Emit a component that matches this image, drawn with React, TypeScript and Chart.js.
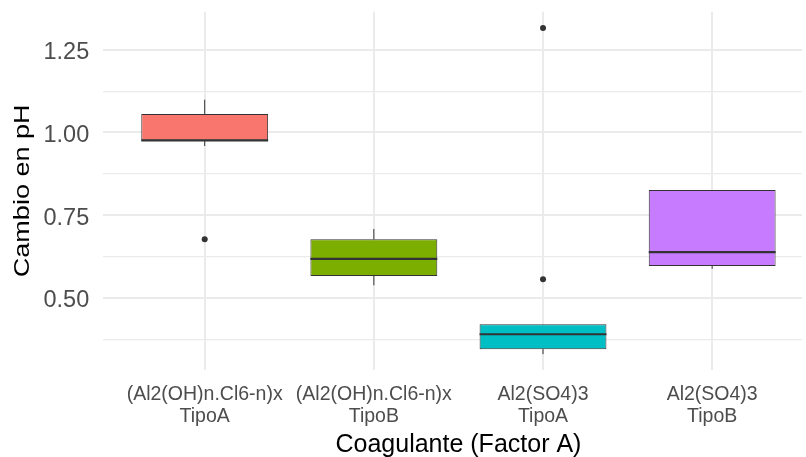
import { useEffect, useRef } from "react";
import { Chart, registerables } from "chart.js";

Chart.register(...registerables);

// Groups on the x axis (two-line labels)
const categories: string[][] = [
  ["(Al2(OH)n.Cl6-n)x", "TipoA"],
  ["(Al2(OH)n.Cl6-n)x", "TipoB"],
  ["Al2(SO4)3", "TipoA"],
  ["Al2(SO4)3", "TipoB"],
];

// Five-number summaries per group
const whiskerLow = [0.959, 0.538, 0.33, 0.588];
const q1 = [0.976, 0.566, 0.345, 0.596];
const medians = [0.976, 0.618, 0.39, 0.638];
const q3 = [1.056, 0.677, 0.42, 0.826];
const whiskerHigh = [1.099, 0.708, 0.42, 0.826];
const outliers: number[][] = [[0.677], [], [0.556, 1.316], []];

const fills = ["#F8766D", "#7CAE00", "#00BFC4", "#C77CFF"];

const yTicks = [0.375, 0.5, 0.625, 0.75, 0.875, 1.0, 1.125, 1.25];
const yLabelled = [0.5, 0.75, 1.0, 1.25];

const xTitle = "Coagulante (Factor A)";
const yTitle = "Cambio en pH";

const W = 806;
const H = 457;
const FONT = "'Liberation Sans', Arial, sans-serif";
const INK = "#333333";
const GRID = "#ebebeb";
const TICK_INK = "#4d4d4d";
// The rotated y title is set slightly condensed
const Y_TITLE_SQUEEZE = 0.84;

// Whiskers and median bars on top of the floating-bar boxes
const boxWhiskers = {
  id: "boxWhiskers",
  afterDatasetsDraw(chart: any) {
    const { ctx, scales } = chart;
    const x = scales.x;
    const y = scales.y;
    const bars = chart.getDatasetMeta(0).data;
    ctx.save();
    ctx.strokeStyle = INK;
    categories.forEach((_, i) => {
      const cx = x.getPixelForValue(i + 1);
      ctx.lineWidth = 1;
      ctx.beginPath();
      ctx.moveTo(cx, y.getPixelForValue(q3[i]));
      ctx.lineTo(cx, y.getPixelForValue(whiskerHigh[i]));
      ctx.moveTo(cx, y.getPixelForValue(q1[i]));
      ctx.lineTo(cx, y.getPixelForValue(whiskerLow[i]));
      ctx.stroke();
      const half = bars[i].width / 2;
      const my = y.getPixelForValue(medians[i]);
      ctx.lineWidth = 2.2;
      ctx.beginPath();
      ctx.moveTo(cx - half, my);
      ctx.lineTo(cx + half, my);
      ctx.stroke();
    });
    ctx.restore();
  },
};

// Axis titles: x title centred on the full panel (which runs past the
// right edge of the canvas), y title rotated
const axisTitles = {
  id: "axisTitles",
  afterDraw(chart: any) {
    const { ctx, chartArea, scales } = chart;
    const x = scales.x;
    ctx.save();
    ctx.fillStyle = "#000000";
    ctx.textAlign = "center";

    ctx.font = `25px ${FONT}`;
    ctx.textBaseline = "alphabetic";
    const panelMid = (x.getPixelForValue(0.4) + x.getPixelForValue(4.6)) / 2;
    ctx.fillText(xTitle, panelMid, 451.5);

    ctx.save();
    ctx.font = `27px ${FONT}`;
    ctx.textBaseline = "middle";
    ctx.translate(23, (chartArea.top + chartArea.bottom) / 2);
    ctx.scale(Y_TITLE_SQUEEZE, 1);
    ctx.rotate(-Math.PI / 2);
    ctx.fillText(yTitle, 0, 0);
    ctx.restore();

    ctx.restore();
  },
};

export default function App() {
  const ref = useRef<HTMLCanvasElement>(null);

  useEffect(() => {
    if (!ref.current) return;
    const outlierPoints = outliers.flatMap((vals, i) =>
      vals.map((v) => ({ x: i + 1, y: v }))
    );

    const chart = new Chart(ref.current, {
      type: "bar",
      data: {
        datasets: [
          {
            type: "bar",
            data: categories.map((_, i) => ({ x: i + 1, y: [q1[i], q3[i]] })) as any,
            backgroundColor: fills,
            borderColor: INK,
            borderWidth: 1,
            borderSkipped: false,
            barPercentage: 0.75,
            categoryPercentage: 1,
          } as any,
          {
            type: "scatter",
            data: outlierPoints,
            pointStyle: "circle",
            pointRadius: 3,
            pointBorderWidth: 0,
            pointBackgroundColor: INK,
          } as any,
        ],
      },
      options: {
        responsive: false,
        animation: false,
        events: [],
        layout: { padding: { top: 11.7, left: 0, right: 0, bottom: 0 } },
        plugins: {
          legend: { display: false },
          tooltip: { enabled: false },
        },
        scales: {
          x: {
            type: "linear",
            offset: false,
            min: 0.4,
            max: 4.531,
            afterBuildTicks: (s: any) => {
              s.ticks = categories.map((_, i) => ({ value: i + 1 }));
            },
            afterFit: (s: any) => {
              s.height = 87;
              s.paddingLeft = 0;
              s.paddingRight = 0;
            },
            grid: { color: GRID, lineWidth: 2, drawTicks: false, offset: false },
            border: { display: false },
            ticks: {
              autoSkip: false,
              maxRotation: 0,
              padding: 13,
              color: TICK_INK,
              font: { family: FONT, size: 19.5, lineHeight: 1.15 },
              callback: (v: any) => categories[Math.round(v) - 1] ?? "",
            },
          },
          y: {
            type: "linear",
            min: 0.282,
            max: 1.365,
            afterBuildTicks: (s: any) => {
              s.ticks = yTicks.map((v) => ({ value: v }));
            },
            afterFit: (s: any) => {
              s.width = 103.2;
              s.paddingTop = 0;
              s.paddingBottom = 0;
            },
            grid: {
              color: GRID,
              drawTicks: false,
              lineWidth: (c: any) =>
                c.tick && yLabelled.includes(c.tick.value) ? 2 : 1.2,
            },
            border: { display: false },
            ticks: {
              autoSkip: false,
              padding: 14,
              labelOffset: 3,
              color: TICK_INK,
              font: { family: FONT, size: 23.5 },
              callback: (v: any) =>
                yLabelled.includes(v) ? Number(v).toFixed(2) : "",
            },
          },
        },
      },
      plugins: [boxWhiskers, axisTitles],
    });

    return () => chart.destroy();
  }, []);

  return (
    <div
      style={{
        position: "fixed",
        left: 0,
        top: 0,
        width: W,
        height: H,
        overflow: "hidden",
        background: "#ffffff",
      }}
    >
      <canvas ref={ref} width={W} height={H} />
    </div>
  );
}
